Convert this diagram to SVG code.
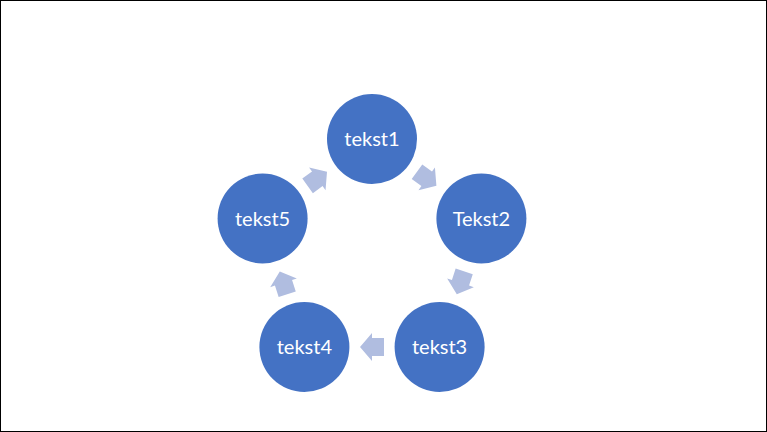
<svg xmlns="http://www.w3.org/2000/svg" width="767" height="432" viewBox="0 0 767 432">
<defs>
<style>
.node{fill:#4472C4;}
.lbl{fill:#FFFFFF;font-family:Lato,"Liberation Sans",sans-serif;font-size:20px;text-anchor:middle;}
.arr{fill:#B0BDE0;}
</style>
<path id="a" d="M-12,-9 H0 V-14 L12,0 L0,14 V9 H-12 Z"/>
</defs>
<rect x="0" y="0" width="767" height="432" fill="#FFFFFF"/>
<rect x="0.5" y="0.5" width="766" height="431" fill="none" stroke="#000000" stroke-width="1"/>
<g id="connectors">
<use href="#a" class="arr" transform="translate(426.7,178.8) rotate(36)"/>
<use href="#a" class="arr" transform="translate(460.5,282.8) rotate(108)"/>
<use href="#a" class="arr" transform="translate(372,347) rotate(180)"/>
<use href="#a" class="arr" transform="translate(283.5,282.8) rotate(252)"/>
<use href="#a" class="arr" transform="translate(317.3,178.8) rotate(-36)"/>
</g>
<g id="node1"><circle class="node" cx="372" cy="139" r="45"/><text class="lbl" x="372" y="146">tekst1</text></g>
<g id="node2"><circle class="node" cx="481.4" cy="218.5" r="45"/><text class="lbl" x="481.4" y="225.5">Tekst2</text></g>
<g id="node3"><circle class="node" cx="439.6" cy="347" r="45"/><text class="lbl" x="439.6" y="354">tekst3</text></g>
<g id="node4"><circle class="node" cx="304.4" cy="347" r="45"/><text class="lbl" x="304.4" y="354">tekst4</text></g>
<g id="node5"><circle class="node" cx="262.6" cy="218.5" r="45"/><text class="lbl" x="262.6" y="225.5">tekst5</text></g>
</svg>
